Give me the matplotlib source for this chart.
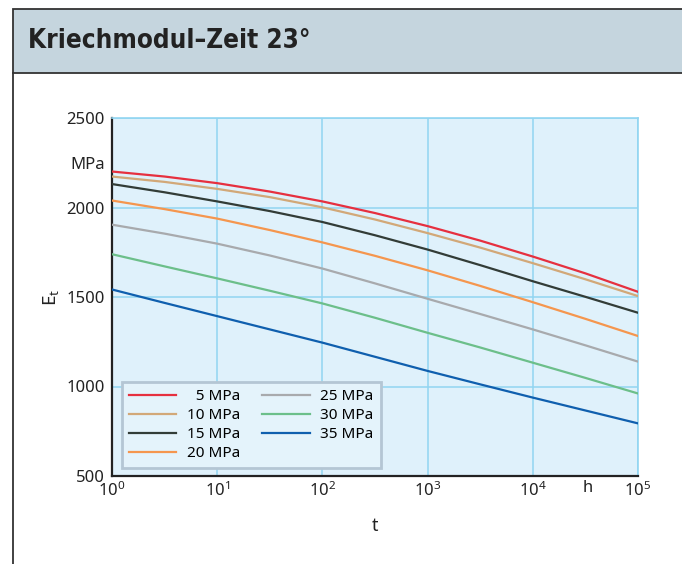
import matplotlib
matplotlib.use("Agg")
import matplotlib.pyplot as plt
from matplotlib.patches import Rectangle
from matplotlib.lines import Line2D
import matplotlib.transforms as mtransforms
from matplotlib import font_manager
from matplotlib.font_manager import FontProperties

plt.rcParams['font.family'] = ['Noto Sans', 'DejaVu Sans']
plt.rcParams['mathtext.fontset'] = 'custom'
plt.rcParams['mathtext.rm'] = 'Noto Sans'
plt.rcParams['mathtext.it'] = 'Noto Sans:italic'

# ---- data (at every half decade) ----
t_hours = [1, 3.162, 10, 31.62, 100, 316.2, 1000, 3162, 10000, 31620, 100000]
series_labels = ['\u20075 MPa', '10 MPa', '15 MPa', '20 MPa', '25 MPa', '30 MPa', '35 MPa']
E_5 = [2201, 2173, 2136, 2089, 2034, 1969, 1896, 1815, 1726, 1632, 1529]
E_10 = [2173, 2143, 2104, 2058, 2001, 1933, 1857, 1776, 1689, 1599, 1505]
E_15 = [2131, 2085, 2034, 1980, 1919, 1845, 1765, 1678, 1588, 1501, 1412]
E_20 = [2039, 1991, 1938, 1874, 1805, 1730, 1649, 1562, 1471, 1378, 1282]
E_25 = [1904, 1854, 1798, 1732, 1659, 1576, 1490, 1405, 1319, 1230, 1139]
E_30 = [1739, 1671, 1604, 1535, 1464, 1384, 1300, 1218, 1133, 1048, 961]
E_35 = [1542, 1467, 1393, 1319, 1245, 1166, 1087, 1012, 938, 866, 794]
series_values = [E_5, E_10, E_15, E_20, E_25, E_30, E_35]
colors = ['#e6303f', '#d2a878', '#323c37', '#f5964e', '#a8aaad', '#6cbf8a', '#0f5fae']
y_ticks = [500, 1000, 1500, 2000, 2250, 2500]
y_ticklabels = ['500', '1000', '1500', '2000', 'MPa', '2500']
x_ticks = [1, 10, 100, 1000, 10000, 100000]
x_ticklabels = [r'$\mathregular{10^{%d}}$' % i for i in range(6)]

W, H = 682, 564
fig = plt.figure(figsize=(W / 100, H / 100), dpi=100)

# title band
band = Rectangle((13 / W, 1 - 73 / H), 1.0, 64 / H, transform=fig.transFigure,
                 facecolor='#c5d5de', edgecolor='#333333', linewidth=1.3, zorder=0)
fig.patches.append(band)
fig.add_artist(Line2D([13 / W, 13 / W], [0, 1 - 73 / H], transform=fig.transFigure,
                      color='#333333', linewidth=1.3))

# choose a condensed bold font if one exists
cand = None
for f in font_manager.fontManager.ttflist:
    nm = (f.name + ' ' + f.fname).lower()
    if ('condensed' in nm or 'narrow' in nm) and (f.weight in ('bold', 700) or 'bold' in nm):
        cand = f.fname
        break
if cand:
    tprops = FontProperties(fname=cand, size=24)
else:
    tprops = FontProperties(family='DejaVu Sans', weight='bold', size=24)
title = fig.text(28 / W, 1 - 41 / H, 'Kriechmodul\u2013Zeit 23°', fontproperties=tprops,
                 color='#222222', va='center', ha='left')
fig.canvas.draw()
wpx = title.get_window_extent(fig.canvas.get_renderer()).width
target = 282.0
if wpx > target:
    title.set_fontsize(24 * target / wpx)

grid_c = '#92d5f1'
ax = fig.add_axes([112 / W, 1 - 476 / H, 526 / W, 358 / H])
ax.set_facecolor('#dff1fb')
for vals, c, lab in zip(series_values, colors, series_labels):
    ax.plot(t_hours, vals, color=c, linewidth=1.6, label=lab, zorder=3)

ax.set_xscale('log')
ax.set_xlim(1, 100000)
ax.set_ylim(500, 2500)
ax.set_xticks(x_ticks)
ax.set_xticklabels(x_ticklabels)
ax.minorticks_off()
ax.set_yticks(y_ticks)
ax.set_yticklabels(y_ticklabels)
ax.tick_params(axis='both', length=0, labelsize=12, colors='#222222')
ax.tick_params(axis='y', pad=5)
ax.tick_params(axis='x', pad=4)
ax.grid(True, color=grid_c, linewidth=1.1, zorder=1)
ax.yaxis.get_gridlines()[4].set_visible(False)
ax.set_axisbelow(True)

for s in ['left', 'bottom']:
    ax.spines[s].set_color('#222222')
    ax.spines[s].set_linewidth(1.6)
for s in ['top', 'right']:
    ax.spines[s].set_color(grid_c)
    ax.spines[s].set_linewidth(1.2)

trans = mtransforms.blended_transform_factory(ax.transData, ax.transAxes)
ax.text(10 ** 4.52, -0.012, 'h', transform=trans, ha='center', va='top', fontsize=12, color='#222222')

ax.set_ylabel(r'$\mathregular{E_t}$', fontsize=13.5, color='#222222', labelpad=4)
ax.set_xlabel('t', fontsize=13, color='#222222', labelpad=12)

leg = ax.legend(ncol=2, loc='lower left', bbox_to_anchor=(0.019, 0.022), borderaxespad=0,
                fontsize=11, handlelength=3.1, handletextpad=0.7, columnspacing=1.45,
                labelspacing=0.27, borderpad=0.45, frameon=True, fancybox=False)
fr = leg.get_frame()
fr.set_facecolor('#e4f3fb')
fr.set_edgecolor('#b4c6d4')
fr.set_linewidth(2.0)
fr.set_alpha(1)
leg.set_zorder(5)

fig.savefig('out.png', dpi=100)
